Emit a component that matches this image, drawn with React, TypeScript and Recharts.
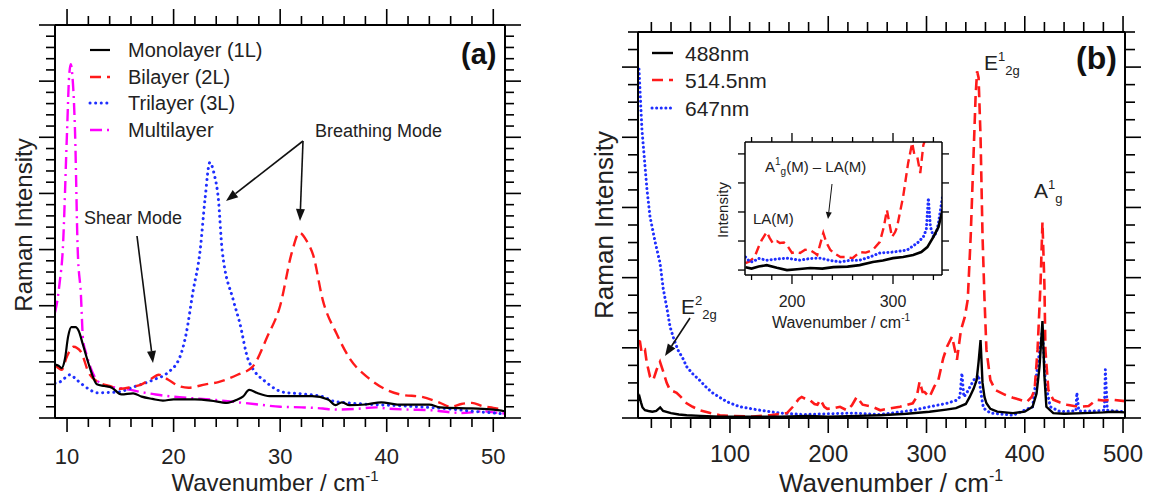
import { LineChart, Line, XAxis, YAxis } from 'recharts'

type Pt = [number, number]

// ---------- panel (a): low-frequency Raman, x = cm-1, y = arb. units ----------
const MONOLAYER: Pt[] = [
  [8.87, 0.95], [9.2, 0.93], [9.5, 0.89], [9.8, 1.05], [10.1, 1.45], [10.4, 1.62], [10.8, 1.62],
  [11.1, 1.55], [11.5, 1.3], [12.0, 0.98], [12.4, 0.75], [12.8, 0.6], [13.5, 0.57], [14.2, 0.54],
  [15.1, 0.42], [16.2, 0.44], [17.0, 0.38], [18.0, 0.34], [19.0, 0.31], [20.0, 0.33], [22.0, 0.33],
  [23.5, 0.31], [25.0, 0.27], [26.0, 0.33], [26.5, 0.38], [27.1, 0.5], [27.8, 0.45], [29.0, 0.39],
  [31.0, 0.39], [33.0, 0.39], [34.5, 0.33], [35.2, 0.23], [35.8, 0.28], [36.5, 0.23], [38.0, 0.24],
  [39.5, 0.28], [41.0, 0.24], [44.0, 0.24], [45.0, 0.19], [48.0, 0.17], [50.0, 0.15], [51.1, 0.12],
]
const BILAYER: Pt[] = [
  [8.87, 0.95], [9.5, 0.86], [10.0, 1.1], [10.6, 1.27], [11.3, 1.18], [12.0, 0.82], [13.0, 0.63],
  [14.0, 0.57], [15.0, 0.52], [16.0, 0.55], [17.0, 0.6], [18.0, 0.71], [18.6, 0.77], [19.5, 0.68],
  [20.5, 0.57], [21.4, 0.54], [23.0, 0.6], [24.2, 0.64], [26.0, 0.77], [27.4, 0.91], [28.8, 1.45],
  [30.0, 2.0], [31.1, 2.95], [31.8, 3.3], [32.5, 3.15], [33.1, 2.9], [34.0, 2.1], [35.3, 1.5],
  [36.6, 1.04], [38.3, 0.71], [40.0, 0.5], [41.5, 0.41], [43.2, 0.38], [45.0, 0.27], [46.0, 0.2],
  [47.0, 0.25], [48.0, 0.27], [49.0, 0.21], [50.0, 0.18], [51.1, 0.14],
]
const TRILAYER: Pt[] = [
  [8.87, 0.62], [9.3, 0.64], [10.3, 0.77], [10.9, 0.68], [12.0, 0.52], [12.8, 0.45], [14.7, 0.46],
  [16.2, 0.55], [18.1, 0.68], [19.4, 0.8], [20.6, 1.09], [21.2, 1.52], [21.8, 2.23], [22.5, 3.0],
  [22.95, 3.9], [23.4, 4.55], [23.8, 4.35], [24.2, 3.9], [24.55, 3.0], [25.6, 2.1], [26.2, 1.7],
  [27.0, 1.04], [28.8, 0.62], [30.3, 0.46], [32.0, 0.43], [34.0, 0.38], [35.0, 0.3], [37.0, 0.26],
  [40.0, 0.23], [43.0, 0.2], [46.0, 0.16], [48.0, 0.12], [50.0, 0.09], [51.1, 0.07],
]
const MULTILAYER: Pt[] = [
  [8.87, 1.88], [9.1, 2.1], [9.3, 2.4], [9.6, 3.0], [10.0, 5.1], [10.2, 6.1], [10.35, 6.3],
  [10.5, 6.1], [10.75, 5.1], [11.0, 3.0], [11.3, 2.2], [11.5, 1.4], [11.8, 1.15], [12.2, 0.9],
  [13.1, 0.62], [14.0, 0.56], [15.0, 0.53], [16.0, 0.5], [17.0, 0.46], [18.0, 0.43], [19.0, 0.4],
  [20.0, 0.38], [22.0, 0.35], [24.0, 0.32], [26.0, 0.28], [28.0, 0.24], [30.0, 0.2], [32.0, 0.19],
  [34.0, 0.17], [35.0, 0.15], [37.0, 0.16], [39.0, 0.19], [40.0, 0.17], [42.0, 0.15], [44.0, 0.14],
  [46.0, 0.1], [47.0, 0.09], [48.0, 0.1], [49.0, 0.12], [50.0, 0.1], [51.1, 0.08],
]

// ---------- panel (b): excitation wavelengths ----------
const NM488: Pt[] = [
  [6.5, 0.25], [8, 0.3], [9.5, 0.22], [11, 0.15], [13.5, 0.11], [17, 0.1], [21, 0.09], [25, 0.1],
  [29, 0.15], [32, 0.1], [40, 0.07], [48, 0.05], [56, 0.04], [70, 0.03], [90, 0.02], [120, 0.02],
  [150, 0.02], [180, 0.03], [200, 0.02], [230, 0.03], [253, 0.04], [280, 0.06], [303, 0.09],
  [320, 0.12], [330, 0.14], [340, 0.2], [344, 0.3], [348, 0.42], [351, 0.54], [353, 0.8],
  [355, 1.11], [357, 0.5], [359, 0.3], [361, 0.21], [365, 0.13], [372, 0.09], [388, 0.07],
  [400, 0.09], [408, 0.16], [412, 0.35], [415, 0.73], [418, 1.38], [420, 0.6], [422, 0.16],
  [429, 0.07], [440, 0.06], [460, 0.07], [480, 0.08], [490, 0.09], [502, 0.08],
]
const NM514: Pt[] = [
  [7, 1.1], [8.4, 1.09], [10.1, 0.93], [13.5, 0.97], [15.2, 0.8], [18.6, 0.59], [21.9, 0.54],
  [25.4, 0.69], [28.8, 0.8], [32.1, 0.66], [35.6, 0.5], [38.9, 0.4], [45.7, 0.36], [50, 0.3],
  [55.9, 0.21], [62, 0.16], [69.5, 0.11], [80, 0.07], [89.8, 0.04], [100, 0.03], [123, 0.02],
  [141, 0.04], [158, 0.07], [164, 0.16], [170, 0.27], [173, 0.3], [177, 0.27], [181, 0.26],
  [186, 0.2], [189, 0.19], [192, 0.26], [196, 0.16], [199, 0.13], [206, 0.14], [212, 0.16],
  [219, 0.11], [224, 0.18], [229, 0.3], [235, 0.19], [245, 0.16], [253, 0.11], [260, 0.13],
  [273, 0.16], [286, 0.21], [290, 0.3], [293, 0.52], [296, 0.37], [298, 0.37], [303, 0.3],
  [308, 0.45], [312, 0.54], [317, 0.85], [321, 1.02], [326, 1.16], [331, 0.83], [335, 1.25],
  [339, 1.44], [342, 1.69], [345, 2.6], [348, 3.8], [350, 4.6], [351.5, 4.94], [353, 4.85],
  [355, 4.0], [357, 2.6], [359, 1.7], [361, 0.97], [365, 0.54], [370, 0.4], [380, 0.33],
  [388, 0.29], [395, 0.26], [402, 0.23], [407, 0.3], [410, 0.4], [413, 0.97], [416, 1.9],
  [418, 2.79], [420, 1.9], [421, 0.97], [424, 0.4], [429, 0.26], [436, 0.22], [443, 0.19],
  [450, 0.17], [456, 0.16], [465, 0.17], [473, 0.26], [480, 0.25], [490, 0.26], [502, 0.24],
]
const NM647: Pt[] = [
  [7.4, 4.97], [10.4, 4.11], [15.5, 3.26], [18.6, 2.87], [24, 2.5], [28.8, 2.21], [32, 1.85],
  [36, 1.55], [39, 1.3], [43, 1.12], [47, 0.97], [52, 0.85], [56, 0.73], [62, 0.63], [69, 0.54],
  [75, 0.45], [82, 0.36], [90, 0.29], [97, 0.23], [110, 0.16], [131, 0.11], [151, 0.07],
  [174, 0.05], [200, 0.06], [225, 0.07], [253, 0.05], [286, 0.11], [303, 0.16], [321, 0.21],
  [330, 0.25], [334, 0.3], [336, 0.64], [338, 0.3], [341, 0.36], [348, 0.54], [353, 0.61],
  [356, 0.3], [358, 0.14], [365, 0.07], [388, 0.04], [408, 0.16], [413, 0.73], [418, 1.26],
  [421, 0.5], [426, 0.16], [436, 0.09], [452, 0.1], [453, 0.36], [455, 0.1], [470, 0.1],
  [481, 0.11], [482, 0.69], [484, 0.11], [502, 0.09],
]

// ---------- inset of (b) ----------
const INSET_488: Pt[] = [
  [154, 0.1], [160, 0.05], [167, 0.12], [175, 0.17], [185, 0.08], [195, 0.0], [205, 0.03],
  [218, 0.07], [230, 0.05], [241, 0.1], [255, 0.12], [267, 0.17], [280, 0.28], [290, 0.33],
  [300, 0.41], [310, 0.45], [320, 0.52], [328, 0.62], [334, 0.79], [340, 1.14], [345, 1.48],
  [349, 2.07],
]
const INSET_514: Pt[] = [
  [154, 0.24], [158, 0.3], [163, 0.45], [167, 0.8], [170, 1.03], [175, 1.31], [178, 1.1],
  [181, 0.93], [185, 1.0], [188, 0.93], [192, 0.95], [195, 0.86], [200, 0.59], [204, 0.62],
  [208, 0.59], [213, 0.7], [218, 0.69], [222, 0.6], [225, 0.52], [228, 0.9], [231, 1.28],
  [234, 0.95], [238, 0.69], [243, 0.55], [248, 0.45], [254, 0.45], [260, 0.41], [267, 0.62],
  [273, 0.6], [280, 0.69], [287, 0.97], [291, 1.5], [294, 2.07], [297, 1.5], [299, 1.14],
  [302, 1.3], [304, 1.48], [307, 2.0], [310, 2.52], [315, 3.69], [319, 4.38], [321, 4.0],
  [324, 3.9], [327, 3.34], [330, 4.3], [334, 4.7], [338, 5.2],
]
const INSET_647: Pt[] = [
  [154, 0.45], [158, 0.3], [161, 0.28], [167, 0.4], [175, 0.34], [185, 0.38], [195, 0.41],
  [208, 0.34], [218, 0.4], [228, 0.41], [238, 0.33], [248, 0.28], [258, 0.34], [267, 0.34],
  [277, 0.45], [287, 0.59], [300, 0.62], [314, 0.69], [324, 0.93], [330, 1.14], [333, 1.4],
  [335, 2.48], [337, 1.5], [340, 1.14], [343, 1.3], [345, 1.62], [349, 2.52],
]

// tick positions
const A_X_MAJOR = [10, 20, 30, 40, 50]
const A_Y_MAJOR = [0, 1, 2, 3, 4, 5, 6, 7]
const B_X_MAJOR = [100, 200, 300, 400, 500]
const B_Y_MAJOR = [0, 1, 2, 3, 4, 5]
const IN_X_MAJOR = [200, 300]
const IN_Y_MAJOR = [0, 1, 2, 3, 4]

const steps = (from: number, to: number, step: number) => {
  const out: number[] = []
  for (let v = from; v <= to + 1e-9; v += step) out.push(Math.round(v * 1000) / 1000)
  return out
}

const FONT = '"Liberation Sans", Arial, Helvetica, sans-serif'
const INK = '#222'
const FRAME = { stroke: '#000', strokeWidth: 2 }
const toData = (pts: Pt[]) => pts.map(([x, y]) => ({ x, y }))

type Side = 'top' | 'bottom' | 'left' | 'right'
type TickSpec = {
  side: Side
  majors: number[]
  majorLen: number
  minorLen: number
  label?: boolean
  fontSize?: number
  gap?: number
  sw?: number
}

const tickOf = (spec: TickSpec) => (props: any) => {
  const { x, y, payload } = props
  const v = payload.value as number
  const isMajor = spec.majors.some((m) => Math.abs(m - v) < 1e-6)
  const len = isMajor ? spec.majorLen : spec.minorLen
  const dx = spec.side === 'left' ? -len : spec.side === 'right' ? len : 0
  const dy = spec.side === 'top' ? -len : spec.side === 'bottom' ? len : 0
  return (
    <g>
      <line x1={x} y1={y} x2={x + dx} y2={y + dy} stroke="#000" strokeWidth={spec.sw ?? 1.6} />
      {spec.label && isMajor && (
        <text x={x} y={y + (spec.gap ?? 0)} textAnchor="middle" fontSize={spec.fontSize} fill={INK} fontFamily={FONT}>
          {v}
        </text>
      )}
    </g>
  )
}

const Arrow = ({ from, to, head = 12, width = 9, sw = 1.6 }: { from: Pt; to: Pt; head?: number; width?: number; sw?: number }) => {
  const [x1, y1] = from
  const [x2, y2] = to
  const a = Math.atan2(y2 - y1, x2 - x1)
  const bx = x2 - head * Math.cos(a)
  const by = y2 - head * Math.sin(a)
  const nx = (-Math.sin(a) * width) / 2
  const ny = (Math.cos(a) * width) / 2
  return (
    <g>
      <line x1={x1} y1={y1} x2={bx} y2={by} stroke="#111" strokeWidth={sw} />
      <polygon points={`${x2},${y2} ${bx + nx},${by + ny} ${bx - nx},${by - ny}`} fill="#111" />
    </g>
  )
}

const A_STYLES = {
  mono: { stroke: '#000', strokeWidth: 2.2 },
  bi: { stroke: '#ff1a1a', strokeWidth: 2.4, strokeDasharray: '11 6' },
  tri: { stroke: '#1f2fff', strokeWidth: 3, strokeDasharray: '0.1 5.5', strokeLinecap: 'round' as const },
  multi: { stroke: '#ff00ff', strokeWidth: 2.4, strokeDasharray: '12 5 2 5' },
}
const B_STYLES = {
  n488: { stroke: '#000', strokeWidth: 2.4 },
  n514: { stroke: '#ff1a1a', strokeWidth: 2.6, strokeDasharray: '11 6' },
  n647: { stroke: '#1f2fff', strokeWidth: 3, strokeDasharray: '0.1 4.5', strokeLinecap: 'round' as const },
}

const PanelA = () => {
  const xTicks = steps(10, 50, 2)
  const yTicks = steps(0, 7, 0.2)
  const dom: [number, number] = [8.87, 51.1]
  return (
    <LineChart width={560} height={502} margin={{ top: 0, right: 0, bottom: 0, left: 0 }}>
      <XAxis xAxisId="b" type="number" dataKey="x" domain={dom} allowDataOverflow ticks={xTicks} interval={0}
        height={84} tickSize={0} tickMargin={0} tickLine={false} axisLine={FRAME}
        tick={tickOf({ side: 'bottom', majors: A_X_MAJOR, majorLen: 14, minorLen: 9, label: true, fontSize: 22, gap: 46 })} />
      <XAxis xAxisId="t" orientation="top" type="number" dataKey="x" domain={dom} allowDataOverflow ticks={xTicks} interval={0}
        height={25} tickSize={0} tickMargin={0} tickLine={false} axisLine={FRAME}
        tick={tickOf({ side: 'top', majors: A_X_MAJOR, majorLen: 16, minorLen: 9 })} />
      <YAxis yAxisId="l" type="number" domain={[0, 7]} allowDataOverflow ticks={yTicks} interval={0}
        width={55} tickSize={0} tickMargin={0} tickLine={false} axisLine={FRAME}
        tick={tickOf({ side: 'left', majors: A_Y_MAJOR, majorLen: 16, minorLen: 9 })} />
      <YAxis yAxisId="r" orientation="right" type="number" domain={[0, 7]} allowDataOverflow ticks={yTicks} interval={0}
        width={55} tickSize={0} tickMargin={0} tickLine={false} axisLine={FRAME}
        tick={tickOf({ side: 'right', majors: A_Y_MAJOR, majorLen: 16, minorLen: 9 })} />
      <Line xAxisId="b" yAxisId="l" data={toData(MULTILAYER)} dataKey="y" type="monotone" dot={false} isAnimationActive={false} {...A_STYLES.multi} />
      <Line xAxisId="b" yAxisId="l" data={toData(TRILAYER)} dataKey="y" type="monotone" dot={false} isAnimationActive={false} {...A_STYLES.tri} />
      <Line xAxisId="b" yAxisId="l" data={toData(BILAYER)} dataKey="y" type="monotone" dot={false} isAnimationActive={false} {...A_STYLES.bi} />
      <Line xAxisId="b" yAxisId="l" data={toData(MONOLAYER)} dataKey="y" type="monotone" dot={false} isAnimationActive={false} {...A_STYLES.mono} />
    </LineChart>
  )
}

const PanelB = () => {
  const xTicks = steps(20, 500, 20)
  const yTicks = steps(0, 5.5, 0.25)
  const dom: [number, number] = [6.4, 502]
  return (
    <LineChart width={574} height={502} margin={{ top: 0, right: 0, bottom: 0, left: 0 }}>
      <XAxis xAxisId="b" type="number" dataKey="x" domain={dom} allowDataOverflow ticks={xTicks} interval={0}
        height={84} tickSize={0} tickMargin={0} tickLine={false} axisLine={FRAME}
        tick={tickOf({ side: 'bottom', majors: B_X_MAJOR, majorLen: 15, minorLen: 10, label: true, fontSize: 24, gap: 44 })} />
      <XAxis xAxisId="t" orientation="top" type="number" dataKey="x" domain={dom} allowDataOverflow ticks={xTicks} interval={0}
        height={32} tickSize={0} tickMargin={0} tickLine={false} axisLine={FRAME}
        tick={tickOf({ side: 'top', majors: B_X_MAJOR, majorLen: 16, minorLen: 10 })} />
      <YAxis yAxisId="l" type="number" domain={[0, 5.5]} allowDataOverflow ticks={yTicks} interval={0}
        width={58} tickSize={0} tickMargin={0} tickLine={false} axisLine={FRAME}
        tick={tickOf({ side: 'left', majors: B_Y_MAJOR, majorLen: 16, minorLen: 10 })} />
      <YAxis yAxisId="r" orientation="right" type="number" domain={[0, 5.5]} allowDataOverflow ticks={yTicks} interval={0}
        width={29} tickSize={0} tickMargin={0} tickLine={false} axisLine={FRAME}
        tick={tickOf({ side: 'right', majors: B_Y_MAJOR, majorLen: 16, minorLen: 10 })} />
      <Line xAxisId="b" yAxisId="l" data={toData(NM647)} dataKey="y" type="linear" dot={false} isAnimationActive={false} {...B_STYLES.n647} />
      <Line xAxisId="b" yAxisId="l" data={toData(NM514)} dataKey="y" type="linear" dot={false} isAnimationActive={false} {...B_STYLES.n514} />
      <Line xAxisId="b" yAxisId="l" data={toData(NM488)} dataKey="y" type="linear" dot={false} isAnimationActive={false} {...B_STYLES.n488} />
    </LineChart>
  )
}

const Inset = () => {
  const xTicks = steps(160, 340, 20)
  const dom: [number, number] = [153.5, 348.5]
  const frame = { stroke: '#000', strokeWidth: 1.5 }
  return (
    <LineChart width={260} height={200} margin={{ top: 0, right: 0, bottom: 0, left: 0 }} style={{ background: '#fff' }}>
      <XAxis xAxisId="b" type="number" dataKey="x" domain={dom} allowDataOverflow ticks={xTicks} interval={0}
        height={45} tickSize={0} tickMargin={0} tickLine={false} axisLine={frame}
        tick={tickOf({ side: 'bottom', majors: IN_X_MAJOR, majorLen: 9, minorLen: 5, label: true, fontSize: 16, gap: 32, sw: 1.3 })} />
      <XAxis xAxisId="t" orientation="top" type="number" dataKey="x" domain={dom} allowDataOverflow ticks={xTicks} interval={0}
        height={22} tickSize={0} tickMargin={0} tickLine={false} axisLine={frame}
        tick={tickOf({ side: 'top', majors: IN_X_MAJOR, majorLen: 9, minorLen: 5, sw: 1.3 })} />
      <YAxis yAxisId="l" type="number" domain={[-0.17, 4.41]} allowDataOverflow ticks={IN_Y_MAJOR} interval={0}
        width={45} tickSize={0} tickMargin={0} tickLine={false} axisLine={frame}
        tick={tickOf({ side: 'left', majors: IN_Y_MAJOR, majorLen: 7, minorLen: 7, sw: 1.3 })} />
      <YAxis yAxisId="r" orientation="right" type="number" domain={[-0.17, 4.41]} allowDataOverflow ticks={IN_Y_MAJOR} interval={0}
        width={18} tickSize={0} tickMargin={0} tickLine={false} axisLine={frame}
        tick={tickOf({ side: 'right', majors: IN_Y_MAJOR, majorLen: 7, minorLen: 7, sw: 1.3 })} />
      <Line xAxisId="b" yAxisId="l" data={toData(INSET_514)} dataKey="y" type="linear" dot={false} isAnimationActive={false} stroke="#ff1a1a" strokeWidth={2.4} strokeDasharray="9 5" />
      <Line xAxisId="b" yAxisId="l" data={toData(INSET_647)} dataKey="y" type="linear" dot={false} isAnimationActive={false} stroke="#1f2fff" strokeWidth={3} strokeDasharray="0.1 4" strokeLinecap="round" />
      <Line xAxisId="b" yAxisId="l" data={toData(INSET_488)} dataKey="y" type="linear" dot={false} isAnimationActive={false} stroke="#000" strokeWidth={2.6} />
    </LineChart>
  )
}

const LegendRow = ({ x, y, len, textX, label, style, size }: { x: number; y: number; len: number; textX: number; label: string; style: any; size: number }) => (
  <g>
    <line x1={x} y1={y} x2={x + len} y2={y} {...style} />
    <text x={textX} y={y + size * 0.36} fontSize={size} fill={INK}>{label}</text>
  </g>
)

const Overlay = () => (
  <svg width={1154} height={502} style={{ position: 'absolute', left: 0, top: 0, pointerEvents: 'none' }} fontFamily={FONT}>
    {/* panel (a) */}
    <text x={23} y={225} transform="rotate(-90 23 225)" textAnchor="middle" dominantBaseline="central" fontSize={24} fill={INK}>Raman Intensity</text>
    <text x={275} y={491} textAnchor="middle" fontSize={24} fill={INK}>Wavenumber / cm<tspan dy={-10} fontSize={15}>-1</tspan></text>
    <text x={461} y={64} fontSize={29} fontWeight="bold" fill="#111">(a)</text>
    <LegendRow x={90} y={50} len={20} textX={128} label="Monolayer (1L)" style={A_STYLES.mono} size={20} />
    <LegendRow x={90} y={77} len={20} textX={128} label="Bilayer (2L)" style={A_STYLES.bi} size={20} />
    <LegendRow x={90} y={103} len={20} textX={128} label="Trilayer (3L)" style={A_STYLES.tri} size={20} />
    <LegendRow x={90} y={130} len={20} textX={128} label="Multilayer" style={A_STYLES.multi} size={20} />
    <text x={84} y={224} fontSize={18} fill={INK}>Shear Mode</text>
    <Arrow from={[137, 236]} to={[153, 363]} />
    <text x={315} y={137} fontSize={18} fill={INK}>Breathing Mode</text>
    <Arrow from={[303, 141]} to={[226, 201]} />
    <Arrow from={[303, 141]} to={[300, 221]} />

    {/* panel (b) */}
    <text x={604} y={225} transform="rotate(-90 604 225)" textAnchor="middle" dominantBaseline="central" fontSize={26} fill={INK}>Raman Intensity</text>
    <text x={891} y={492} textAnchor="middle" fontSize={26} fill={INK}>Wavenumber / cm<tspan dy={-11} fontSize={16}>-1</tspan></text>
    <text x={1076} y={69} fontSize={32} fontWeight="bold" fill="#111">(b)</text>
    <LegendRow x={652} y={53} len={21} textX={685} label="488nm" style={B_STYLES.n488} size={21} />
    <LegendRow x={652} y={80} len={21} textX={685} label="514.5nm" style={B_STYLES.n514} size={21} />
    <LegendRow x={652} y={108} len={21} textX={685} label="647nm" style={B_STYLES.n647} size={21} />
    <text x={984} y={70} fontSize={21} fill={INK}>E<tspan dy={-9} fontSize={13}>1</tspan><tspan dy={14} fontSize={13}>2g</tspan></text>
    <text x={1034} y={198} fontSize={21} fill={INK}>A<tspan dy={-9} fontSize={13}>1</tspan><tspan dy={14} fontSize={13}>g</tspan></text>
    <text x={681} y={314} fontSize={21} fill={INK}>E<tspan dy={-9} fontSize={13}>2</tspan><tspan dy={14} fontSize={13}>2g</tspan></text>
    <Arrow from={[690, 318]} to={[665, 356]} />

    {/* inset */}
    <text x={722} y={210} transform="rotate(-90 722 210)" textAnchor="middle" dominantBaseline="central" fontSize={15} fill={INK}>Intensity</text>
    <text x={841} y={328} textAnchor="middle" fontSize={16} fill={INK}>Wavenumber / cm<tspan dy={-7} fontSize={10}>-1</tspan></text>
    <text x={765} y={172} fontSize={15} fill={INK}>A<tspan dy={-7} fontSize={10}>1</tspan><tspan dy={10} fontSize={10}>g</tspan><tspan dy={-3}>(M) – LA(M)</tspan></text>
    <text x={753} y={224} fontSize={15} fill={INK}>LA(M)</text>
    <Arrow from={[832, 184]} to={[828, 219]} head={7} width={6} sw={1} />
  </svg>
)

export default function App() {
  return (
    <div style={{ position: 'absolute', left: 0, top: 0, width: 1154, height: 502, background: '#fff', fontFamily: FONT }}>
      <div style={{ position: 'absolute', left: 0, top: 0 }}>
        <PanelA />
      </div>
      <div style={{ position: 'absolute', left: 580, top: 0 }}>
        <PanelB />
      </div>
      <div style={{ position: 'absolute', left: 700, top: 120 }}>
        <Inset />
      </div>
      <Overlay />
    </div>
  )
}
